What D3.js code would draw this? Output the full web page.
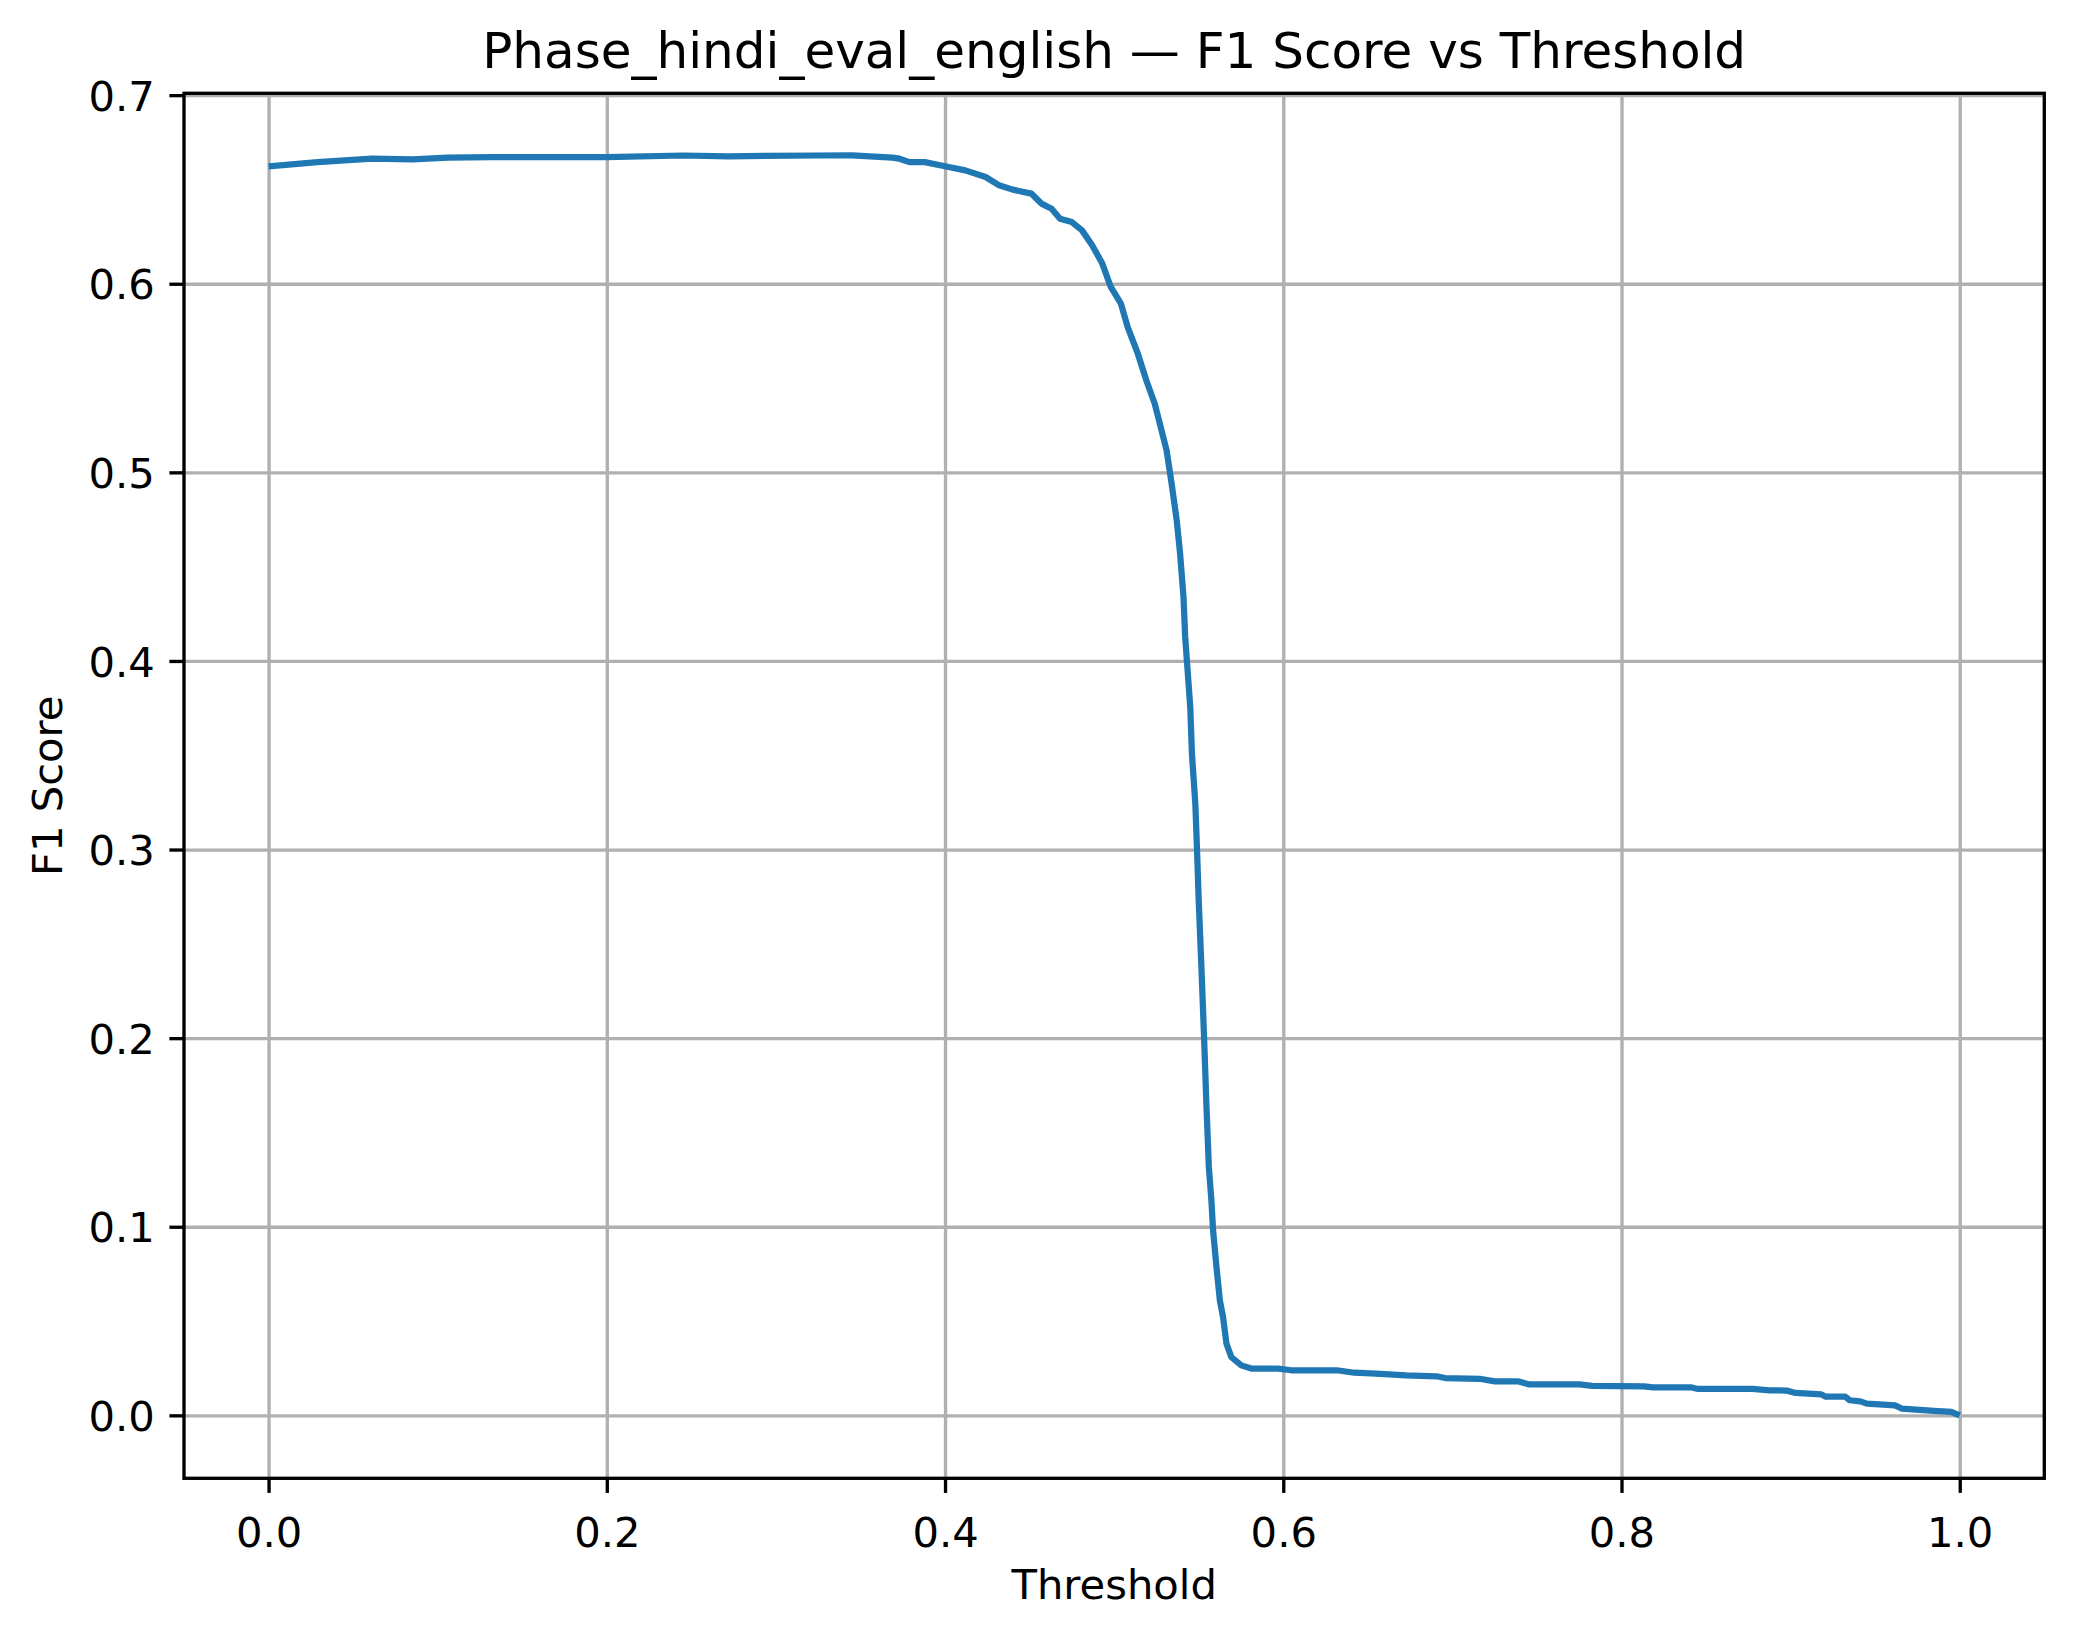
<!DOCTYPE html>
<html>
<head>
<meta charset="utf-8">
<script src="https://cdn.jsdelivr.net/npm/d3@7"></script>
<style>
  body { margin: 0; background: #fff; }
  svg { display: block; font-family: "DejaVu Sans", sans-serif; }
  .tick text { font-family: "DejaVu Sans", sans-serif; font-size: 41.7px; fill: #000; }
  .grid line { stroke: #b0b0b0; stroke-width: 3.33px; }
  .grid .domain { display: none; }
</style>
</head>
<body>
<svg id="chart" width="2074" height="1638"></svg>
<script>
const title = "Phase_hindi_eval_english \u2014 F1 Score vs Threshold";
const xLabel = "Threshold";
const yLabel = "F1 Score";

const xTicks = [0, 0.2, 0.4, 0.6, 0.8, 1.0];
const yTicks = [0, 0.1, 0.2, 0.3, 0.4, 0.5, 0.6, 0.7];

const thresholds = [
  0.000, 0.029, 0.061, 0.085, 0.106, 0.132, 0.166, 0.200, 0.245, 0.272,
  0.324, 0.345, 0.369, 0.373, 0.379, 0.388, 0.400, 0.412, 0.424, 0.432,
  0.440, 0.451, 0.457, 0.463, 0.468, 0.475, 0.481, 0.487, 0.493, 0.498,
  0.504, 0.508, 0.514, 0.519, 0.524, 0.528, 0.531, 0.534, 0.537, 0.539,
  0.541, 0.542, 0.543, 0.545, 0.546, 0.548, 0.549, 0.550, 0.5516, 0.5532,
  0.5546, 0.556, 0.5575, 0.5585, 0.5605, 0.5625, 0.5644, 0.5654, 0.5664, 0.5693,
  0.5752, 0.5811, 0.5969, 0.6047, 0.6317, 0.642, 0.6547, 0.6726, 0.6906, 0.6957,
  0.7161, 0.7251, 0.7392, 0.7455, 0.775, 0.7827, 0.8133, 0.8185, 0.8415, 0.8453,
  0.8773, 0.8876, 0.8978, 0.9029, 0.9182, 0.9208, 0.9323, 0.9349, 0.9412, 0.9451,
  0.9617, 0.9656, 0.9848, 0.995, 1.000
];
const f1Scores = [
  0.6622, 0.6645, 0.6663, 0.6660, 0.6669, 0.6672, 0.6672, 0.6672, 0.6680, 0.6676,
  0.6680, 0.6681, 0.6669, 0.6663, 0.6645, 0.6645, 0.6623, 0.6601, 0.6566, 0.6522,
  0.6499, 0.6478, 0.6425, 0.6398, 0.6345, 0.6327, 0.6283, 0.6204, 0.6107, 0.5983,
  0.5894, 0.5770, 0.5629, 0.5488, 0.5364, 0.5223, 0.5117, 0.4940, 0.4745, 0.4569,
  0.4339, 0.4127, 0.4003, 0.3756, 0.3508, 0.3243, 0.2999, 0.2731, 0.2377, 0.1997,
  0.1635, 0.1317, 0.1140, 0.0981, 0.0786, 0.0610, 0.0521, 0.0451, 0.0380, 0.0309,
  0.0265, 0.0248, 0.0248, 0.0239, 0.0239, 0.0226, 0.0221, 0.0212, 0.0207, 0.0198,
  0.0194, 0.0180, 0.0180, 0.0164, 0.0164, 0.0156, 0.0154, 0.0148, 0.0148, 0.0140,
  0.0140, 0.0133, 0.0131, 0.0119, 0.0111, 0.0099, 0.0099, 0.0080, 0.0074, 0.0062,
  0.0053, 0.0036, 0.0024, 0.0019, 0.0000
];

const svg = d3.select("#chart");
const margin = { top: 93.3, left: 184, right: 29.7, bottom: 159.7 };
const width = 2074 - margin.left - margin.right;
const height = 1638 - margin.top - margin.bottom;

const chart = svg
  .append("g")
  .attr("transform", `translate(${margin.left}, ${margin.top})`);

const xScale = d3.scaleLinear().domain([-0.05, 1.05]).range([0, width]);
const yScale = d3.scaleLinear().domain([-0.03338, 0.70098]).range([height, 0]);

// grid
chart
  .append("g")
  .attr("class", "grid")
  .attr("transform", `translate(0, ${height})`)
  .call(d3.axisBottom(xScale).tickValues(xTicks).tickSize(-height).tickFormat(""));

chart
  .append("g")
  .attr("class", "grid")
  .call(d3.axisLeft(yScale).tickValues(yTicks).tickSize(-width).tickFormat(""));

// the curve
const line = d3.line()
  .x((d, i) => xScale(thresholds[i]))
  .y(d => yScale(d));

chart
  .append("path")
  .datum(f1Scores)
  .attr("fill", "none")
  .attr("stroke", "#1f77b4")
  .attr("stroke-width", 6.25)
  .attr("stroke-linejoin", "round")
  .attr("d", line);

// axes
const xAxis = chart
  .append("g")
  .attr("transform", `translate(0, ${height})`)
  .call(d3.axisBottom(xScale).tickValues(xTicks).tickSize(14.6).tickPadding(14.6).tickFormat(d3.format(".1f")));

const yAxis = chart
  .append("g")
  .call(d3.axisLeft(yScale).tickValues(yTicks).tickSize(14.6).tickPadding(14.6).tickFormat(d3.format(".1f")));

[xAxis, yAxis].forEach(a => {
  a.attr("font-family", null).attr("font-size", null);
  a.select(".domain").remove();
  a.selectAll(".tick line").attr("stroke", "#000").attr("stroke-width", 3.33);
});
xAxis.selectAll(".tick text").attr("dy", "0.95em");
yAxis.selectAll(".tick text").attr("dy", "0.365em");

// frame
chart
  .append("rect")
  .attr("width", width)
  .attr("height", height)
  .attr("fill", "none")
  .attr("stroke", "#000")
  .attr("stroke-width", 3.33);

svg
  .append("text")
  .attr("x", margin.left + width / 2)
  .attr("y", 68)
  .attr("text-anchor", "middle")
  .style("font-size", "50px")
  .text(title);

svg
  .append("text")
  .attr("x", margin.left + width / 2)
  .attr("y", 1599)
  .attr("text-anchor", "middle")
  .style("font-size", "41.7px")
  .text(xLabel);

svg
  .append("text")
  .attr("transform", `translate(62, ${margin.top + height / 2}) rotate(-90)`)
  .attr("text-anchor", "middle")
  .style("font-size", "41.7px")
  .text(yLabel);
</script>
</body>
</html>
